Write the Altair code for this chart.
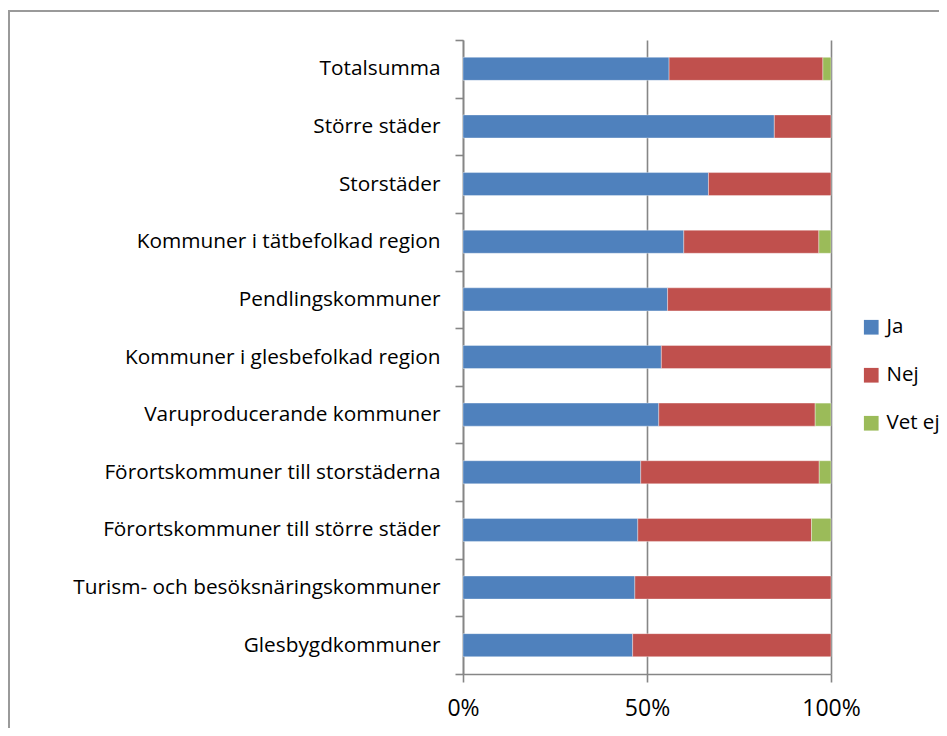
import altair as alt
import pandas as pd

categories = [
    "Totalsumma",
    "Större städer",
    "Storstäder",
    "Kommuner i tätbefolkad region",
    "Pendlingskommuner",
    "Kommuner i glesbefolkad region",
    "Varuproducerande kommuner",
    "Förortskommuner till storstäderna",
    "Förortskommuner till större städer",
    "Turism- och besöksnäringskommuner",
    "Glesbygdkommuner",
]
answers = ["Ja", "Nej", "Vet ej"]
ja = [56.0, 84.6, 66.7, 60.0, 55.6, 53.9, 53.2, 48.3, 47.5, 46.7, 46.1]
nej = [41.8, 15.4, 33.3, 36.7, 44.4, 46.1, 42.5, 48.5, 47.2, 53.3, 53.9]
vet_ej = [2.2, 0.0, 0.0, 3.3, 0.0, 0.0, 4.3, 3.2, 5.3, 0.0, 0.0]
colors = ["#4F81BD", "#C0504D", "#9BBB59"]
x_ticks = [0, 0.5, 1]

rows = []
for i, c in enumerate(categories):
    for a, vals in zip(answers, [ja, nej, vet_ej]):
        rows.append({"Kategori": c, "Svar": a, "Andel": vals[i], "ord": answers.index(a)})
df = pd.DataFrame(rows)

FONT = "Open Sans"

bars = alt.Chart(df).transform_filter(alt.datum.Andel > 0).mark_bar(
    height=alt.RelativeBandSize(0.4),
    stroke="#ffffff", strokeOpacity=0.45, strokeWidth=0.8,
).encode(
    x=alt.X(
        "Andel:Q",
        stack="normalize",
        scale=alt.Scale(domain=[0, 1], nice=False),
        axis=alt.Axis(
            values=x_ticks, format=".0%", title=None, grid=True,
            tickSize=8, labelPadding=15, labelFontSize=23, labelFlush=False,
            labelFont=FONT, labelColor="#000000",
        ),
    ),
    y=alt.Y(
        "Kategori:N",
        sort=categories,
        scale=alt.Scale(paddingInner=0, paddingOuter=0),
        axis=alt.Axis(
            title=None, tickBand="extent", tickSize=8, labelPadding=15,
            labelFontSize=20.8, labelFont=FONT, labelColor="#000000",
            labelLimit=500, grid=False,
        ),
    ),
    color=alt.Color(
        "Svar:N",
        sort=answers,
        scale=alt.Scale(domain=answers, range=colors),
        legend=alt.Legend(
            title=None, orient="none", legendX=398, legendY=277,
            symbolType="square", symbolSize=216, symbolStrokeWidth=0,
            labelFontSize=20.5, labelFont=FONT, labelColor="#000000",
            rowPadding=27, labelOffset=5,
        ),
    ),
    order=alt.Order("ord:Q"),
)

frame_df = pd.DataFrame({"a": [0]})
frame_left = alt.Chart(frame_df).mark_rule(color="#9a9a9a", strokeWidth=2).encode(
    x=alt.value(-454), y=alt.value(-29), y2=alt.value(720)
)
frame_top = alt.Chart(frame_df).mark_rule(color="#9a9a9a", strokeWidth=2).encode(
    x=alt.value(-455), x2=alt.value(600), y=alt.value(-29)
)

chart = alt.layer(bars, frame_left, frame_top).properties(
    width=368,
    height=634,
    autosize=alt.AutoSizeParams(type="none"),
    padding={"left": 455, "top": 32, "right": 108, "bottom": 54},
    background="#ffffff",
).configure_view(stroke=None).configure_axis(
    domainColor="#868686", domainWidth=1.6,
    tickColor="#868686", tickWidth=1.6,
    gridColor="#868686", gridWidth=1.6, gridOpacity=1,
)

chart.save("out.html", embed_options={"renderer": "svg", "actions": False})
